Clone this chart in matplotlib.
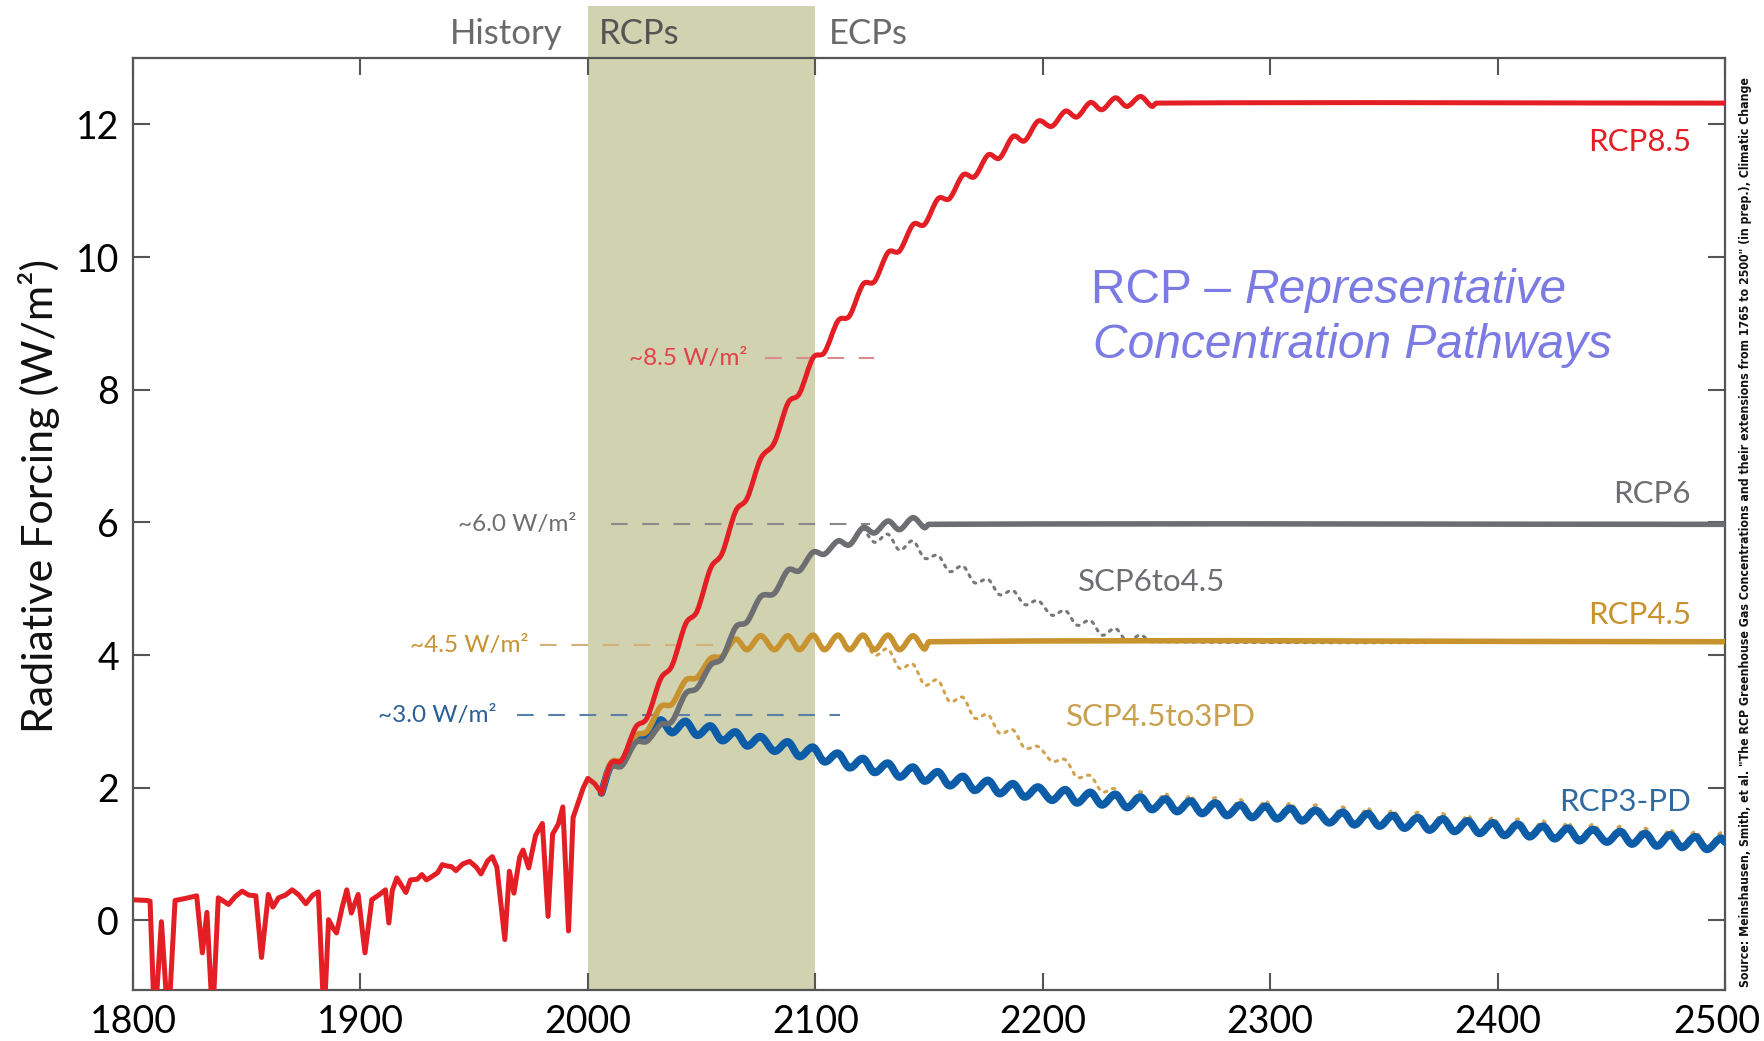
import matplotlib
matplotlib.use("Agg")
import matplotlib.pyplot as plt
from matplotlib.transforms import blended_transform_factory, ScaledTranslation
from matplotlib.patches import Rectangle, PathPatch
from matplotlib.path import Path

plt.rcParams['font.family'] = ['Lato', 'DejaVu Sans']

# ---------------- data ----------------
hist_years = [1800, 1806, 1807.5, 1809.5, 1812.5, 1815.5, 1818.5, 1823, 1828, 1830.5, 1832.5, 1835,
              1837.5, 1842, 1845, 1848, 1851, 1854, 1856.5, 1859.5, 1861.5, 1864, 1867, 1870, 1873,
              1876, 1879, 1881.5, 1884, 1886, 1888, 1889.5, 1892, 1894, 1896, 1899, 1902, 1905, 1908,
              1911, 1912.5, 1914, 1916, 1920, 1922, 1925, 1927, 1929, 1931, 1934, 1936, 1938, 1940,
              1942, 1945, 1948, 1951, 1953, 1956, 1958, 1960, 1963.5, 1965.5, 1967.5, 1970, 1971.5,
              1974, 1977, 1980, 1982.5, 1984.5, 1987, 1989, 1991.5, 1993.5, 1995.5, 1998, 2000, 2003, 2006]
hist_vals = [0.31, 0.30, 0.29, -1.6, -0.02, -1.6, 0.30, 0.33, 0.37, -0.49, 0.12, -1.5,
             0.34, 0.24, 0.36, 0.44, 0.38, 0.37, -0.56, 0.39, 0.20, 0.34, 0.38, 0.46, 0.38,
             0.25, 0.38, 0.43, -1.5, 0.01, -0.12, -0.19, 0.20, 0.46, 0.11, 0.39, -0.49, 0.31, 0.38,
             0.46, -0.04, 0.45, 0.64, 0.42, 0.61, 0.62, 0.69, 0.61, 0.65, 0.72, 0.84, 0.82, 0.81,
             0.75, 0.85, 0.89, 0.80, 0.70, 0.90, 0.96, 0.80, -0.29, 0.74, 0.41, 0.95, 1.06,
             0.79, 1.28, 1.46, 0.06, 1.30, 1.45, 1.71, -0.16, 1.55, 1.75, 2.00, 2.14, 2.06, 1.92]

rcp85_years = [2006, 2010, 2015, 2021, 2026, 2032, 2037, 2043, 2048, 2054, 2059, 2065, 2070, 2076,
               2082, 2088, 2093, 2099, 2104, 2110, 2115, 2121, 2126, 2132, 2137, 2143, 2148, 2154,
               2159, 2165, 2170, 2176, 2181, 2187, 2192, 2198, 2204, 2210, 2215, 2221, 2226, 2232,
               2237, 2243, 2248, 2250, 2500]
rcp85_vals = [1.92, 2.36, 2.42, 2.91, 3.05, 3.64, 3.84, 4.47, 4.66, 5.31, 5.53, 6.17, 6.36, 6.96,
              7.20, 7.80, 7.94, 8.48, 8.56, 9.04, 9.11, 9.59, 9.63, 10.07, 10.09, 10.49, 10.49, 10.88,
              10.88, 11.24, 11.21, 11.54, 11.49, 11.82, 11.75, 12.05, 11.97, 12.20, 12.11, 12.33, 12.22, 12.40,
              12.27, 12.42, 12.27, 12.32, 12.32]

rcp6_years = [2006, 2010, 2015, 2021, 2026, 2032, 2037, 2043, 2048, 2054, 2059, 2065, 2070, 2076,
              2082, 2088, 2093, 2099, 2104, 2110, 2115, 2121, 2126, 2132, 2137, 2143, 2148, 2150, 2500]
rcp6_vals = [1.92, 2.30, 2.33, 2.68, 2.70, 2.95, 3.00, 3.42, 3.50, 3.85, 3.95, 4.42, 4.50, 4.88,
             4.93, 5.28, 5.27, 5.55, 5.52, 5.72, 5.66, 5.92, 5.84, 6.02, 5.89, 6.07, 5.92, 5.97, 5.97]

rcp45_years = [2006, 2010, 2015, 2021, 2026, 2032, 2037, 2043, 2048, 2054, 2059, 2065, 2070, 2076,
               2082, 2088, 2093, 2099, 2104, 2110, 2115, 2121, 2126, 2132, 2137, 2143, 2148, 2150, 2500]
rcp45_vals = [1.92, 2.37, 2.42, 2.78, 2.85, 3.22, 3.26, 3.62, 3.66, 3.95, 3.98, 4.24, 4.08, 4.29,
              4.08, 4.29, 4.08, 4.30, 4.08, 4.30, 4.08, 4.30, 4.08, 4.30, 4.08, 4.29, 4.09, 4.20, 4.20]

rcp3_years = [2006, 2010, 2015, 2021, 2026, 2032, 2037, 2043, 2048, 2054, 2059, 2065, 2070, 2076,
              2082, 2088, 2093, 2099, 2104, 2110, 2115, 2121, 2126, 2132, 2137, 2143, 2148, 2154,
              2159, 2165, 2170, 2176, 2181, 2187, 2192, 2198, 2204, 2210, 2215, 2221, 2226, 2232,
              2237, 2243, 2248, 2254, 2259, 2265, 2270, 2276, 2281, 2287, 2292, 2298, 2303, 2309,
              2314, 2320, 2326, 2332, 2337, 2343, 2348, 2354, 2359, 2365, 2370, 2376, 2381, 2387,
              2392, 2398, 2403, 2409, 2414, 2420, 2425, 2431, 2436, 2442, 2448, 2454, 2459, 2465,
              2470, 2476, 2481, 2487, 2492, 2498, 2500]
rcp3_vals = [1.92, 2.33, 2.38, 2.76, 2.80, 3.02, 2.83, 3.00, 2.79, 2.93, 2.71, 2.84, 2.63, 2.77,
             2.55, 2.69, 2.47, 2.61, 2.39, 2.52, 2.30, 2.44, 2.23, 2.37, 2.16, 2.31, 2.10, 2.24,
             2.03, 2.17, 1.96, 2.11, 1.91, 2.06, 1.86, 2.01, 1.81, 1.97, 1.77, 1.93, 1.74, 1.90,
             1.70, 1.86, 1.67, 1.83, 1.64, 1.80, 1.61, 1.77, 1.58, 1.74, 1.55, 1.72, 1.53, 1.69,
             1.50, 1.66, 1.47, 1.63, 1.44, 1.61, 1.42, 1.58, 1.39, 1.55, 1.36, 1.53, 1.34, 1.50,
             1.31, 1.47, 1.28, 1.45, 1.26, 1.42, 1.23, 1.39, 1.20, 1.37, 1.18, 1.34, 1.15, 1.31,
             1.12, 1.29, 1.10, 1.26, 1.07, 1.24, 1.18]

scp6_years = [2121, 2126, 2132, 2137, 2143, 2148, 2154, 2159, 2165, 2170, 2176, 2181, 2187, 2192,
              2198, 2204, 2210, 2215, 2221, 2226, 2232, 2237, 2243, 2248, 2500]
scp6_vals = [5.92, 5.70, 5.82, 5.58, 5.72, 5.46, 5.50, 5.26, 5.34, 5.09, 5.14, 4.91, 4.97, 4.76,
             4.82, 4.60, 4.67, 4.45, 4.52, 4.30, 4.40, 4.21, 4.30, 4.20, 4.20]

scp45_years = [2121, 2126, 2132, 2137, 2143, 2148, 2154, 2159, 2165, 2170, 2176, 2181, 2187, 2192,
               2198, 2204, 2210, 2215, 2221, 2226, 2232, 2237, 2243, 2248, 2254, 2259, 2265, 2270,
               2276, 2281, 2287, 2292, 2298, 2303, 2309, 2314, 2320, 2326, 2332, 2337, 2343, 2348,
               2354, 2359, 2365, 2370, 2376, 2381, 2387, 2392, 2398, 2403, 2409, 2414, 2420, 2425,
               2431, 2436, 2442, 2448, 2454, 2459, 2465, 2470, 2476, 2481, 2487, 2492, 2498, 2500]
scp45_vals = [4.30, 4.00, 4.09, 3.80, 3.86, 3.55, 3.62, 3.30, 3.36, 3.05, 3.10, 2.82, 2.87, 2.60,
              2.62, 2.40, 2.42, 2.16, 2.18, 1.94, 1.98, 1.73, 1.94, 1.70, 1.91, 1.67, 1.88, 1.64,
              1.85, 1.61, 1.82, 1.58, 1.80, 1.56, 1.77, 1.53, 1.74, 1.50, 1.71, 1.47, 1.69, 1.45,
              1.66, 1.42, 1.63, 1.39, 1.61, 1.37, 1.58, 1.34, 1.55, 1.31, 1.53, 1.29, 1.50, 1.26,
              1.47, 1.23, 1.45, 1.21, 1.42, 1.18, 1.39, 1.15, 1.37, 1.13, 1.34, 1.10, 1.32, 1.24]

# reference levels (label, value, dashed-line start, dashed-line end)
ref_labels = ["~8.5 W/m²", "~6.0 W/m²", "~4.5 W/m²", "~3.0 W/m²"]
ref_levels = [8.47, 5.97, 4.15, 3.09]
ref_start = [2078, 2010, 1979, 1969]
ref_end = [2126, 2124, 2064, 2111]
ref_text_x = [2070, 1995, 1974, 1960]

x_ticks = [1800, 1900, 2000, 2100, 2200, 2300, 2400, 2500]
y_ticks = [0, 2, 4, 6, 8, 10, 12]

# ---------------- styling ----------------
RED = '#e31e24'
GRAY = '#6d6e71'
GOLD = '#c8922e'
BLUE = '#0c5ca8'
BAND = '#d0d2b0'

fig = plt.figure(figsize=(17.64, 10.41), dpi=100)
ax = fig.add_axes([133 / 1764, 51 / 1041, 1592 / 1764, 932 / 1041])
ax.set_xlim(1800, 2500)
ax.set_ylim(-1.05, 13.0)


def smooth_path(xs, ys):
    """Smooth (cubic Hermite) path passing through every data point, in data coords."""
    n = len(xs)
    slopes = []
    for i in range(n):
        if i == 0:
            slopes.append((ys[1] - ys[0]) / (xs[1] - xs[0]))
        elif i == n - 1:
            slopes.append((ys[-1] - ys[-2]) / (xs[-1] - xs[-2]))
        else:
            slopes.append((ys[i + 1] - ys[i - 1]) / (xs[i + 1] - xs[i - 1]))
    verts = [(xs[0], ys[0])]
    codes = [Path.MOVETO]
    for i in range(n - 1):
        h = xs[i + 1] - xs[i]
        verts += [(xs[i] + h / 3, ys[i] + slopes[i] * h / 3),
                  (xs[i + 1] - h / 3, ys[i + 1] - slopes[i + 1] * h / 3),
                  (xs[i + 1], ys[i + 1])]
        codes += [Path.CURVE4] * 3
    return Path(verts, codes)


def draw_smooth(xs, ys, color, lw, zorder, linestyle='solid'):
    patch = PathPatch(smooth_path(xs, ys), facecolor='none', edgecolor=color, lw=lw,
                      capstyle='round', joinstyle='round', linestyle=linestyle,
                      zorder=zorder, transform=ax.transData)
    ax.add_patch(patch)


blend = blended_transform_factory(ax.transData, ax.transAxes)
ax.add_patch(Rectangle((2000, 0), 100, 1.056, transform=blend, facecolor=BAND,
                       edgecolor='none', clip_on=False, zorder=0.5))

for sp in ax.spines.values():
    sp.set_color('#555555')
    sp.set_linewidth(1.6)

ax.set_xticks(x_ticks)
ax.set_yticks(y_ticks)
ax.tick_params(axis='both', which='both', direction='in', length=12, width=1.5,
               color='#555555', top=True, right=True, labelsize=27, pad=10,
               labelcolor='black')
last_lbl = ax.xaxis.get_major_ticks()[-1].label1
last_lbl.set_transform(last_lbl.get_transform() +
                       ScaledTranslation(-6 / 72, 0, fig.dpi_scale_trans))

ax.set_ylabel("Radiative Forcing (W/m²)", fontsize=31, color='#111111')
ax.yaxis.set_label_coords(-0.046, 0.53)

# period labels above the plot
ax.text(1989, 1.026, "History", transform=blend, ha='right', va='center', fontsize=25,
        color='#6a6a6a', clip_on=False)
ax.text(2005, 1.026, "RCPs", transform=blend, ha='left', va='center', fontsize=25,
        color='#555555', clip_on=False)
ax.text(2106, 1.026, "ECPs", transform=blend, ha='left', va='center', fontsize=25,
        color='#6a6a6a', clip_on=False)

# reference dashed levels
ref_text_colors = ['#e0434a', '#6d6e71', '#c8922e', '#2a5f95']
ref_line_colors = ['#d98c8c', '#8a8a8a', '#d2b27a', '#5b80a8']
for lab, lev, xs, xe, tx, tc, lc in zip(ref_labels, ref_levels, ref_start, ref_end,
                                        ref_text_x, ref_text_colors, ref_line_colors):
    ax.plot([xs, xe], [lev, lev], color=lc, lw=1.5, dashes=(8, 7), zorder=2)
    ax.text(tx, lev, lab, ha='right', va='center', fontsize=17.5, color=tc, zorder=3)

# scenario curves
draw_smooth(scp6_years, scp6_vals, '#77787b', 2.2, 3, linestyle=(0, (0.8, 2.0)))
draw_smooth(scp45_years, scp45_vals, '#d2a24e', 2.2, 3, linestyle=(0, (0.8, 2.0)))
draw_smooth(rcp3_years, rcp3_vals, BLUE, 5.5, 4)
draw_smooth(rcp45_years, rcp45_vals, GOLD, 4.0, 4.2)
draw_smooth(rcp6_years, rcp6_vals, GRAY, 4.0, 4.4)
draw_smooth(rcp85_years, rcp85_vals, RED, 3.6, 5)
ax.plot(hist_years, hist_vals, color=RED, lw=3.6, solid_joinstyle='round', zorder=5)

# scenario labels
ax.text(2485, 11.73, "RCP8.5", ha='right', va='center', fontsize=22.5, color=RED)
ax.text(2485, 6.42, "RCP6", ha='right', va='center', fontsize=22.5, color='#6d6e71')
ax.text(2485, 4.60, "RCP4.5", ha='right', va='center', fontsize=22.5, color='#c8922e')
ax.text(2485, 1.79, "RCP3-PD", ha='right', va='center', fontsize=22.5, color='#2d6aa0')
ax.text(2215.6, 5.10, "SCP6to4.5", ha='left', va='center', fontsize=22.5, color='#6d6e71')
ax.text(2210.3, 3.07, "SCP4.5to3PD", ha='left', va='center', fontsize=22.5, color='#c8a050')

# big title
TCOL = '#7b7be3'
tfam = ['Liberation Sans', 'DejaVu Sans']
t1 = ax.text(2221.3, 9.49, "RCP – ", ha='left', va='center', fontsize=34.5, color=TCOL,
             family=tfam)
ax.annotate("Representative", xy=(1, 0.5), xycoords=t1, ha='left', va='center',
            fontsize=34.5, color=TCOL, family=tfam, style='italic')
ax.text(2222, 8.66, "Concentration Pathways", ha='left', va='center', fontsize=34.5,
        color=TCOL, family=tfam, style='italic')

# source note
src = ('Source: Meinshausen, Smith, et al. "The RCP Greenhouse Gas Concentrations and their '
       'extensions from 1765 to 2500" (in prep.), Climatic Change')
fig.text(0.9895, 0.489, src, rotation=90, ha='center', va='center', fontsize=8.8,
         weight='bold', stretch='condensed', family=['DejaVu Sans'], color='#111111')

fig.savefig("out.png", dpi=100)
